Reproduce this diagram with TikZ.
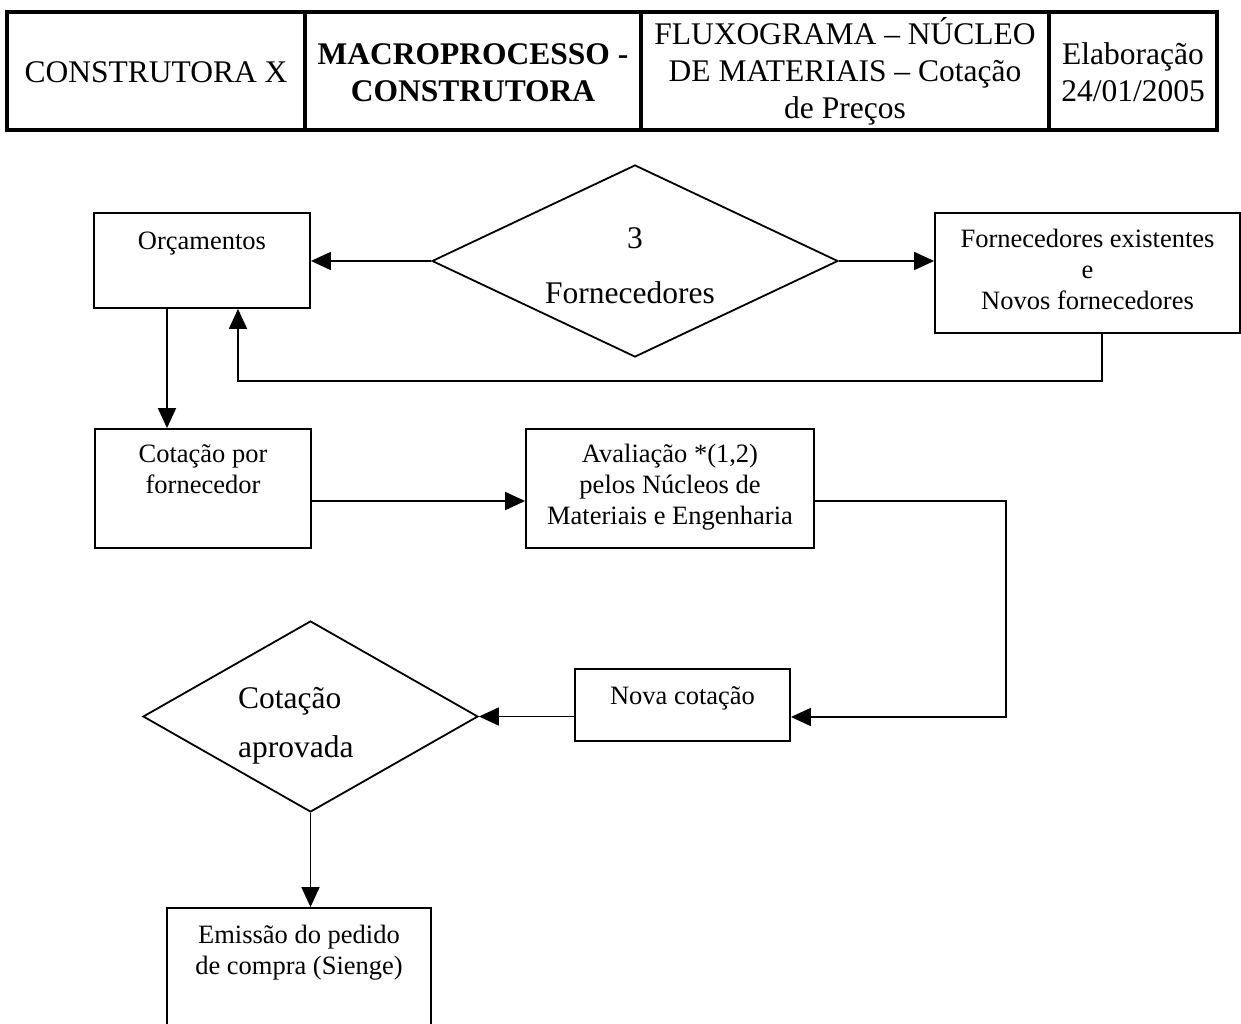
\documentclass[tikz,border=0pt]{standalone}
\usepackage{fontspec}
\setmainfont{Liberation Serif}
\usetikzlibrary{arrows.meta,shapes.geometric}
% centred multi-line text whose baseline is that of its first line
\newcommand{\stacklines}[1]{\begin{tabular}[t]{@{}c@{}}#1\end{tabular}}
\begin{document}
\begin{tikzpicture}[x=1pt,y=-1pt,
  hdrcell/.style={draw, rectangle, line width=3.5pt, inner sep=0pt},
  hdrtext/.style={font=\fontsize{31.5}{37}\selectfont, inner sep=0pt, anchor=base},
  procbox/.style={draw, rectangle, line width=1.8pt, inner sep=0pt},
  boxtext/.style={font=\fontsize{26.5}{31}\selectfont, inner sep=0pt, anchor=base},
  decision/.style={draw, diamond, line width=1.8pt, inner sep=0pt},
  dtext/.style={font=\fontsize{31.5}{37}\selectfont, inner sep=0pt},
  flow/.style={line width=1.8pt, -{Triangle[length=20pt,width=18pt]}}]

\useasboundingbox (0,0) rectangle (1241,1024);
\clip (0,0) rectangle (1241,1024);

% ---- title block ----
\node[hdrcell, minimum width=298pt, minimum height=118pt] (h1) at (156,71) {};
\node[hdrcell, minimum width=336pt, minimum height=118pt] (h2) at (473,71) {};
\node[hdrcell, minimum width=408pt, minimum height=118pt] (h3) at (845,71) {};
\node[hdrcell, minimum width=168pt, minimum height=118pt] (h4) at (1133,71) {};
\node[hdrtext] (h1-t) at (156,83) {CONSTRUTORA X};
\node[hdrtext, font=\fontsize{31.5}{37}\selectfont\bfseries] (h2-t) at (473,65)
  {\stacklines{MACROPROCESSO -\\CONSTRUTORA}};
\node[hdrtext] (h3-t) at (845,44.5)
  {\stacklines{FLUXOGRAMA – NÚCLEO\\DE MATERIAIS – Cotação\\de Preços}};
\node[hdrtext] (h4-t) at (1133,65) {\stacklines{Elaboração\\24/01/2005}};

% ---- process boxes ----
\node[procbox, minimum width=216pt, minimum height=95pt]  (orc)   at (202,260.5) {};
\node[procbox, minimum width=305pt, minimum height=120pt] (forn)  at (1087.5,273) {};
\node[procbox, minimum width=216pt, minimum height=119pt] (cot)   at (203,488.5) {};
\node[procbox, minimum width=288pt, minimum height=119pt] (aval)  at (670,488.5) {};
\node[procbox, minimum width=215pt, minimum height=72pt]  (nova)  at (682.5,705) {};
\node[procbox, minimum width=264pt, minimum height=140pt] (emis)  at (299,978) {};

\node[boxtext] (orc-t)  at ([yshift=-37pt]orc.north)  {Orçamentos};
\node[boxtext] (forn-t) at ([yshift=-35pt]forn.north)
  {\stacklines{Fornecedores existentes\\e\\Novos fornecedores}};
\node[boxtext] (cot-t)  at ([yshift=-34pt]cot.north)  {\stacklines{Cotação por\\fornecedor}};
\node[boxtext] (aval-t) at ([yshift=-34pt]aval.north)
  {\stacklines{Avaliação *(1,2)\\pelos Núcleos de\\Materiais e Engenharia}};
\node[boxtext] (nova-t) at ([yshift=-36pt]nova.north) {Nova cotação};
\node[boxtext] (emis-t) at ([yshift=-36pt]emis.north)
  {\stacklines{Emissão do pedido\\de compra (Sienge)}};

% ---- decisions ----
\node[decision, minimum width=406pt, minimum height=192pt] (d1) at (635,261) {};
\node[dtext, anchor=base] (d1-a) at ([yshift=13pt]d1.center) {3};
\node[dtext, anchor=base] (d1-b) at ([xshift=-5pt,yshift=-42pt]d1.center) {Fornecedores};

\node[decision, minimum width=335pt, minimum height=191pt] (d2) at (310.5,716.5) {};
\node[dtext, anchor=base west] (d2-a) at ([xshift=-72.5pt,yshift=8.5pt]d2.center) {Cotação};
\node[dtext, anchor=base west] (d2-b) at ([xshift=-72.5pt,yshift=-40.5pt]d2.center) {aprovada};

% ---- connectors ----
\draw[flow] (d1.west) -- (d1.west -| orc.east);
\draw[flow] (d1.east) -- (d1.east -| forn.west);

\coordinate (fbR) at (1102,381);
\coordinate (fbL) at (238,381);
\draw[flow] (fbR |- forn.south) -- (fbR) -- (fbL) -- (fbL |- orc.south);

\draw[flow] ([xshift=-35pt]orc.south) -- ([xshift=-35pt]orc.south |- cot.north);
\draw[flow] ([yshift=-12.5pt]cot.east) -- ([yshift=-12.5pt]cot.east -| aval.west);

\coordinate (rcT) at (1006,501);
\coordinate (rcB) at (1006,717);
\draw[flow] ([yshift=-12.5pt]aval.east) -- (rcT) -- (rcB) -- (rcB -| nova.east);

\draw[flow] (d2.east -| nova.west) -- (d2.east);
\draw[flow] (d2.south) -- (d2.south |- emis.north);
\end{tikzpicture}
\end{document}
